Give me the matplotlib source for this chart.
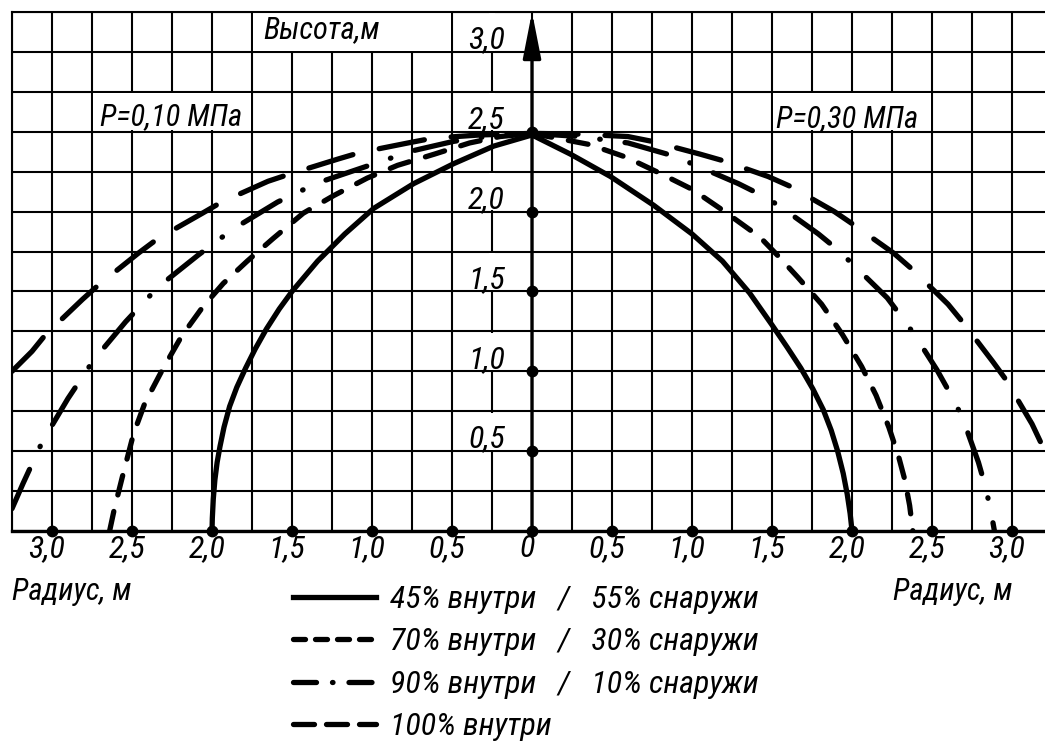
import numpy as np
import matplotlib
matplotlib.use("Agg")
import matplotlib.pyplot as plt
from matplotlib.lines import Line2D
from matplotlib.patches import Rectangle
from matplotlib.transforms import ScaledTranslation

plt.rcParams['font.family'] = ['Liberation Sans Narrow', 'Roboto Condensed', 'Roboto', 'DejaVu Sans']
plt.rcParams['font.style'] = 'italic'
plt.rcParams['lines.scale_dashes'] = False

# %% data (left = P 0,10 MPa, right = P 0,30 MPa)
s45_l_x = [-2.0, -1.998, -1.992, -1.982, -1.968, -1.95, -1.925, -1.89, -1.845, -1.79, -1.73, -1.66, -1.58, -1.5, -1.34, -1.17, -0.99, -0.74, -0.49, -0.24, 0.0]
s45_l_y = [0.0, 0.08, 0.2, 0.32, 0.43, 0.53, 0.65, 0.78, 0.9, 1.02, 1.14, 1.265, 1.39, 1.5, 1.69, 1.86, 2.02, 2.175, 2.3, 2.41, 2.48]
s45_r_x = [0.0, 0.24, 0.49, 0.76, 1.0, 1.19, 1.36, 1.5, 1.595, 1.68, 1.755, 1.82, 1.87, 1.91, 1.945, 1.97, 1.988, 2.0]
s45_r_y = [2.48, 2.36, 2.22, 2.04, 1.86, 1.69, 1.49, 1.29, 1.15, 1.02, 0.89, 0.76, 0.63, 0.5, 0.36, 0.23, 0.11, 0.0]

s70_l_x = [-2.64, -2.61, -2.56, -2.49, -2.42, -2.31, -2.19, -2.06, -1.93, -1.78, -1.62, -1.43, -1.24, -1.03, -0.84, -0.61, -0.39, -0.2, 0.0]
s70_l_y = [0.0, 0.14, 0.34, 0.61, 0.8, 1.01, 1.22, 1.40, 1.55, 1.69, 1.83, 1.99, 2.1, 2.21, 2.29, 2.36, 2.43, 2.47, 2.49]
s70_r_x = [0.0, 0.36, 0.59, 0.8, 1.0, 1.19, 1.425, 1.55, 1.66, 1.81, 1.94, 2.06, 2.15, 2.23, 2.29, 2.33, 2.36, 2.38]
s70_r_y = [2.49, 2.42, 2.34, 2.24, 2.14, 2.01, 1.84, 1.71, 1.59, 1.42, 1.23, 1.03, 0.85, 0.65, 0.47, 0.32, 0.16, 0.0]

s90_l_x = [-3.25, -3.18, -3.06, -2.9, -2.74, -2.54, -2.34, -2.09, -1.87, -1.59, -1.34, -1.06, -0.75, -0.49, -0.25, 0.0]
s90_l_y = [0.14, 0.30, 0.56, 0.83, 1.07, 1.31, 1.525, 1.725, 1.89, 2.06, 2.18, 2.275, 2.38, 2.44, 2.475, 2.49]
s90_r_x = [0.0, 0.3, 0.6, 0.88, 1.0, 1.29, 1.42, 1.54, 1.79, 1.9, 2.0, 2.22, 2.31, 2.39, 2.53, 2.625, 2.69, 2.79, 2.83, 2.865, 2.89]
s90_r_y = [2.49, 2.47, 2.43, 2.35, 2.3, 2.175, 2.11, 2.04, 1.86, 1.77, 1.675, 1.46, 1.34, 1.23, 1.01, 0.84, 0.71, 0.43, 0.29, 0.14, 0.0]

s100_l_x = [-3.25, -3.125, -3.04, -2.81, -2.71, -2.46, -2.34, -2.06, -1.94, -1.65, -1.5, -1.21, -1.075, -0.775, -0.62, -0.325, 0.0]
s100_l_y = [1.0, 1.125, 1.23, 1.45, 1.54, 1.74, 1.83, 1.99, 2.06, 2.19, 2.24, 2.33, 2.37, 2.43, 2.46, 2.48, 2.49]
s100_r_x = [0.0, 0.3, 0.6, 0.75, 1.05, 1.19, 1.475, 1.61, 1.89, 2.0, 2.26, 2.375, 2.6, 2.69, 2.88, 2.96, 3.125, 3.21]
s100_r_y = [2.49, 2.485, 2.47, 2.44, 2.36, 2.32, 2.22, 2.16, 2.0, 1.925, 1.74, 1.64, 1.42, 1.31, 1.06, 0.95, 0.67, 0.49]

labels = ['45% внутри   /   55% снаружи',
          '70% внутри   /   30% снаружи',
          '90% внутри   /   10% снаружи',
          '100% внутри']

x_ticks = [-3.0, -2.5, -2.0, -1.5, -1.0, -0.5, 0.0, 0.5, 1.0, 1.5, 2.0, 2.5, 3.0]
y_labels = [0.5, 1.0, 1.5, 2.0, 2.5, 3.0]
y_dots = [0.5, 1.0, 1.5, 2.0, 2.5]

# %% helpers
def fmt(v):
    v = abs(v)
    if v == 0:
        return '0'
    return ('%.1f' % v).replace('.', ',')

px = 0.72  # points per pixel at dpi 100
lw = 3.8
styles = [
    dict(ls='-'),
    dict(ls=(0, (20 * px, 17 * px))),
    dict(ls=(0, (43 * px, 25 * px, 0.5 * px, 25 * px))),
    dict(ls=(0, (46 * px, 27 * px))),
]
leg_styles = [
    dict(ls='-'),
    dict(ls=(0, (12 * px, 10 * px))),
    dict(ls=(0, (23 * px, 16 * px, 0.5 * px, 16 * px))),
    dict(ls=(0, (21 * px, 12 * px))),
]
fs = 22
fs_num = 23

# %% figure
fig = plt.figure(figsize=(10.45, 7.43), dpi=100)
ax = fig.add_axes([12 / 1045, 212 / 743, 1033 / 1045, 519 / 743])
ax.set_xlim(-3.25, 3.206)
ax.set_ylim(0, 3.25)

ax.set_xticks(np.arange(-3.25, 3.21, 0.25), minor=True)
ax.set_yticks(np.arange(0, 3.26, 0.25))
ax.set_xticks(x_ticks, labels=[fmt(v) for v in x_ticks])
ax.set_axisbelow(True)
ax.grid(which='both', color='black', lw=1.5)
ax.tick_params(which='both', length=0)
ax.tick_params(axis='x', labelsize=fs_num, pad=2)
ax.tick_params(axis='y', labelleft=False)
for lbl in ax.get_xticklabels():
    lbl.set_transform(lbl.get_transform() + ScaledTranslation(-5 / 100, 0, fig.dpi_scale_trans))

ax.spines['right'].set_visible(False)
ax.spines['bottom'].set_linewidth(2.4)
ax.spines['left'].set_linewidth(1.5)
ax.spines['top'].set_linewidth(1.5)

# white cells behind texts
inset = 0.008
for (x0, x1, y0, y1) in [(-1.75, -0.5, 3.0, 3.25), (-2.75, -1.75, 2.5, 2.75), (1.5, 2.5, 2.5, 2.75)]:
    ax.add_patch(Rectangle((x0 + inset, y0 + inset), x1 - x0 - 2 * inset, y1 - y0 - 2 * inset,
                           fc='white', ec='none', zorder=1))
for t in y_labels:
    ax.add_patch(Rectangle((-0.27, t + inset), 0.04, 0.25 - 2 * inset, fc='white', ec='none', zorder=1))
    ax.text(-0.285, t + 0.022, fmt(t), ha='center', va='baseline', fontsize=fs_num, zorder=4)

# curves
series = [(s45_l_x, s45_l_y, s45_r_x, s45_r_y),
          (s70_l_x, s70_l_y, s70_r_x, s70_r_y),
          (s90_l_x, s90_l_y, s90_r_x, s90_r_y),
          (s100_l_x, s100_l_y, s100_r_x, s100_r_y)]
for (lx, ly, rx, ry), st in zip(series, styles):
    for xx, yy in [(lx, ly), (rx, ry)]:
        ax.plot(xx, yy, color='black', lw=lw, solid_capstyle='round', solid_joinstyle='round',
                dash_capstyle='round', dash_joinstyle='round', zorder=3, **st)

# vertical axis with arrow
ax.annotate('', xy=(0, 3.25), xytext=(0, 0),
            arrowprops=dict(arrowstyle='-|>,head_length=2.8,head_width=0.55', lw=2.4,
                            color='black', shrinkA=0, shrinkB=0, mutation_scale=10),
            zorder=4)

# dots on the axes
ax.plot(x_ticks, [0] * len(x_ticks), 'o', color='black', ms=7.5, clip_on=False, zorder=5)
ax.plot([0] * len(y_dots), y_dots, 'o', color='black', ms=7.5, clip_on=False, zorder=5)

# texts
ax.text(-1.68, 3.087, 'Высота,м', fontsize=fs, va='baseline', zorder=4)
ax.text(-2.7, 2.54, 'P=0,10 МПа', fontsize=fs, va='baseline', zorder=4)
ax.text(1.525, 2.53, 'P=0,30 МПа', fontsize=fs, va='baseline', zorder=4)
ax.text(-3.25, -0.43, 'Радиус, м', fontsize=fs, va='baseline', clip_on=False)
ax.text(2.256, -0.43, 'Радиус, м', fontsize=fs, va='baseline', clip_on=False)

# legend
handles = [Line2D([], [], color='black', lw=lw, dash_capstyle='round', **st) for st in leg_styles]
fig.legend(handles, labels, loc='upper left', bbox_to_anchor=(293 / 1045, 1 - 585 / 743),
           frameon=False, fontsize=23, handlelength=2.6, handletextpad=0.45,
           labelspacing=0.42, borderpad=0, borderaxespad=0)

fig.savefig('out.png', dpi=100)
